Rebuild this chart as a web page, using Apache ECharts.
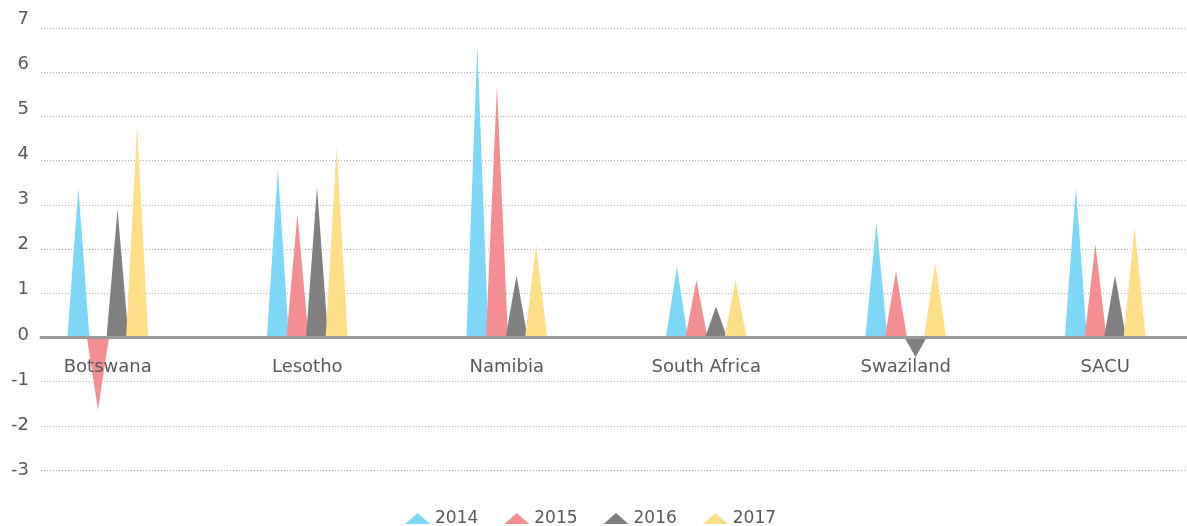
<!DOCTYPE html>
<html>
<head>
<meta charset="utf-8">
<script src="https://cdn.jsdelivr.net/npm/echarts@6/dist/echarts.min.js"></script>
<style>
html,body{margin:0;padding:0;background:#fff;}
#chart{width:1187px;height:526px;}
</style>
</head>
<body>
<div id="chart"></div>
<script>
var categories = ['Botswana', 'Lesotho', 'Namibia', 'South Africa', 'Swaziland', 'SACU'];
var years = ['2014', '2015', '2016', '2017'];
var v2014 = [3.4, 3.8, 6.6, 1.6, 2.6, 3.4];
var v2015 = [-1.65, 2.8, 5.7, 1.3, 1.5, 2.1];
var v2016 = [2.9, 3.4, 1.4, 0.7, -0.45, 1.4];
var v2017 = [4.8, 4.3, 2.1, 1.3, 1.7, 2.5];
var yTicks = [-3, -2, -1, 0, 1, 2, 3, 4, 5, 6, 7];

var colors = ['#7fd7f7', '#f58e92', '#808080', '#ffde88'];
var values = [v2014, v2015, v2016, v2017];
var spike = 'path://M0,10 L10,10 L5,0 z';
var font = 'DejaVu Sans';
var yMin = yTicks[0], yMax = yTicks[yTicks.length - 1];

var chart = echarts.init(document.getElementById('chart'), null, {renderer: 'canvas'});

var series = years.map(function (y, i) {
  return {
    name: y,
    type: 'pictorialBar',
    xAxisIndex: 1,
    yAxisIndex: 1,
    symbol: spike,
    barWidth: 22,
    barGap: '-11%',
    z: 2,
    itemStyle: {color: colors[i]},
    data: values[i]
  };
});

chart.setOption({
  animation: false,
  color: colors,
  textStyle: {fontFamily: font},
  legend: {
    left: 405,
    top: 510,
    padding: 0,
    itemWidth: 25,
    itemHeight: 11,
    itemGap: 26,
    icon: spike,
    symbolKeepAspect: false,
    textStyle: {fontFamily: font, fontSize: 17, color: '#595959', padding: [5, 0, 0, 0]},
    data: years
  },
  grid: [
    {left: 41, right: 0, top: 28, bottom: 56, outerBoundsMode: 'none', containLabel: false},
    {left: 8, width: 1197, top: 28, bottom: 56, outerBoundsMode: 'none', containLabel: false},
    {left: 41, right: 0, top: 19.5, bottom: 56, outerBoundsMode: 'none', containLabel: false}
  ],
  xAxis: [
    {
      type: 'category', gridIndex: 0, data: categories,
      z: 4,
      axisLine: {show: true, onZero: true, lineStyle: {color: '#9a9a9a', width: 3}},
      axisTick: {show: false},
      axisLabel: {show: false},
      splitLine: {show: false}
    },
    {
      type: 'category', gridIndex: 1, data: categories,
      position: 'bottom',
      offset: -132,
      z: 10,
      axisLine: {show: false, onZero: false},
      axisTick: {show: false},
      axisLabel: {show: true, margin: 20, fontFamily: font, fontSize: 18, color: '#595959'},
      splitLine: {show: false}
    },
    {
      type: 'category', gridIndex: 2, data: categories, show: false
    }
  ],
  yAxis: [
    {
      type: 'value', gridIndex: 0, min: yMin, max: yMax, interval: 1,
      axisLine: {show: false},
      axisTick: {show: false},
      axisLabel: {show: false},
      splitLine: {show: true, lineStyle: {color: '#b0b0b0', width: 1, type: [1, 2]}}
    },
    {
      type: 'value', gridIndex: 1, min: yMin, max: yMax, interval: 1,
      axisLine: {show: false},
      axisTick: {show: false},
      axisLabel: {show: false},
      splitLine: {show: false}
    },
    {
      type: 'value', gridIndex: 2, min: yMin, max: yMax, interval: 1,
      axisLine: {show: false},
      axisTick: {show: false},
      axisLabel: {margin: 12, fontFamily: font, fontSize: 18, color: '#595959'},
      splitLine: {show: false}
    }
  ],
  series: series
});
</script>
</body>
</html>
